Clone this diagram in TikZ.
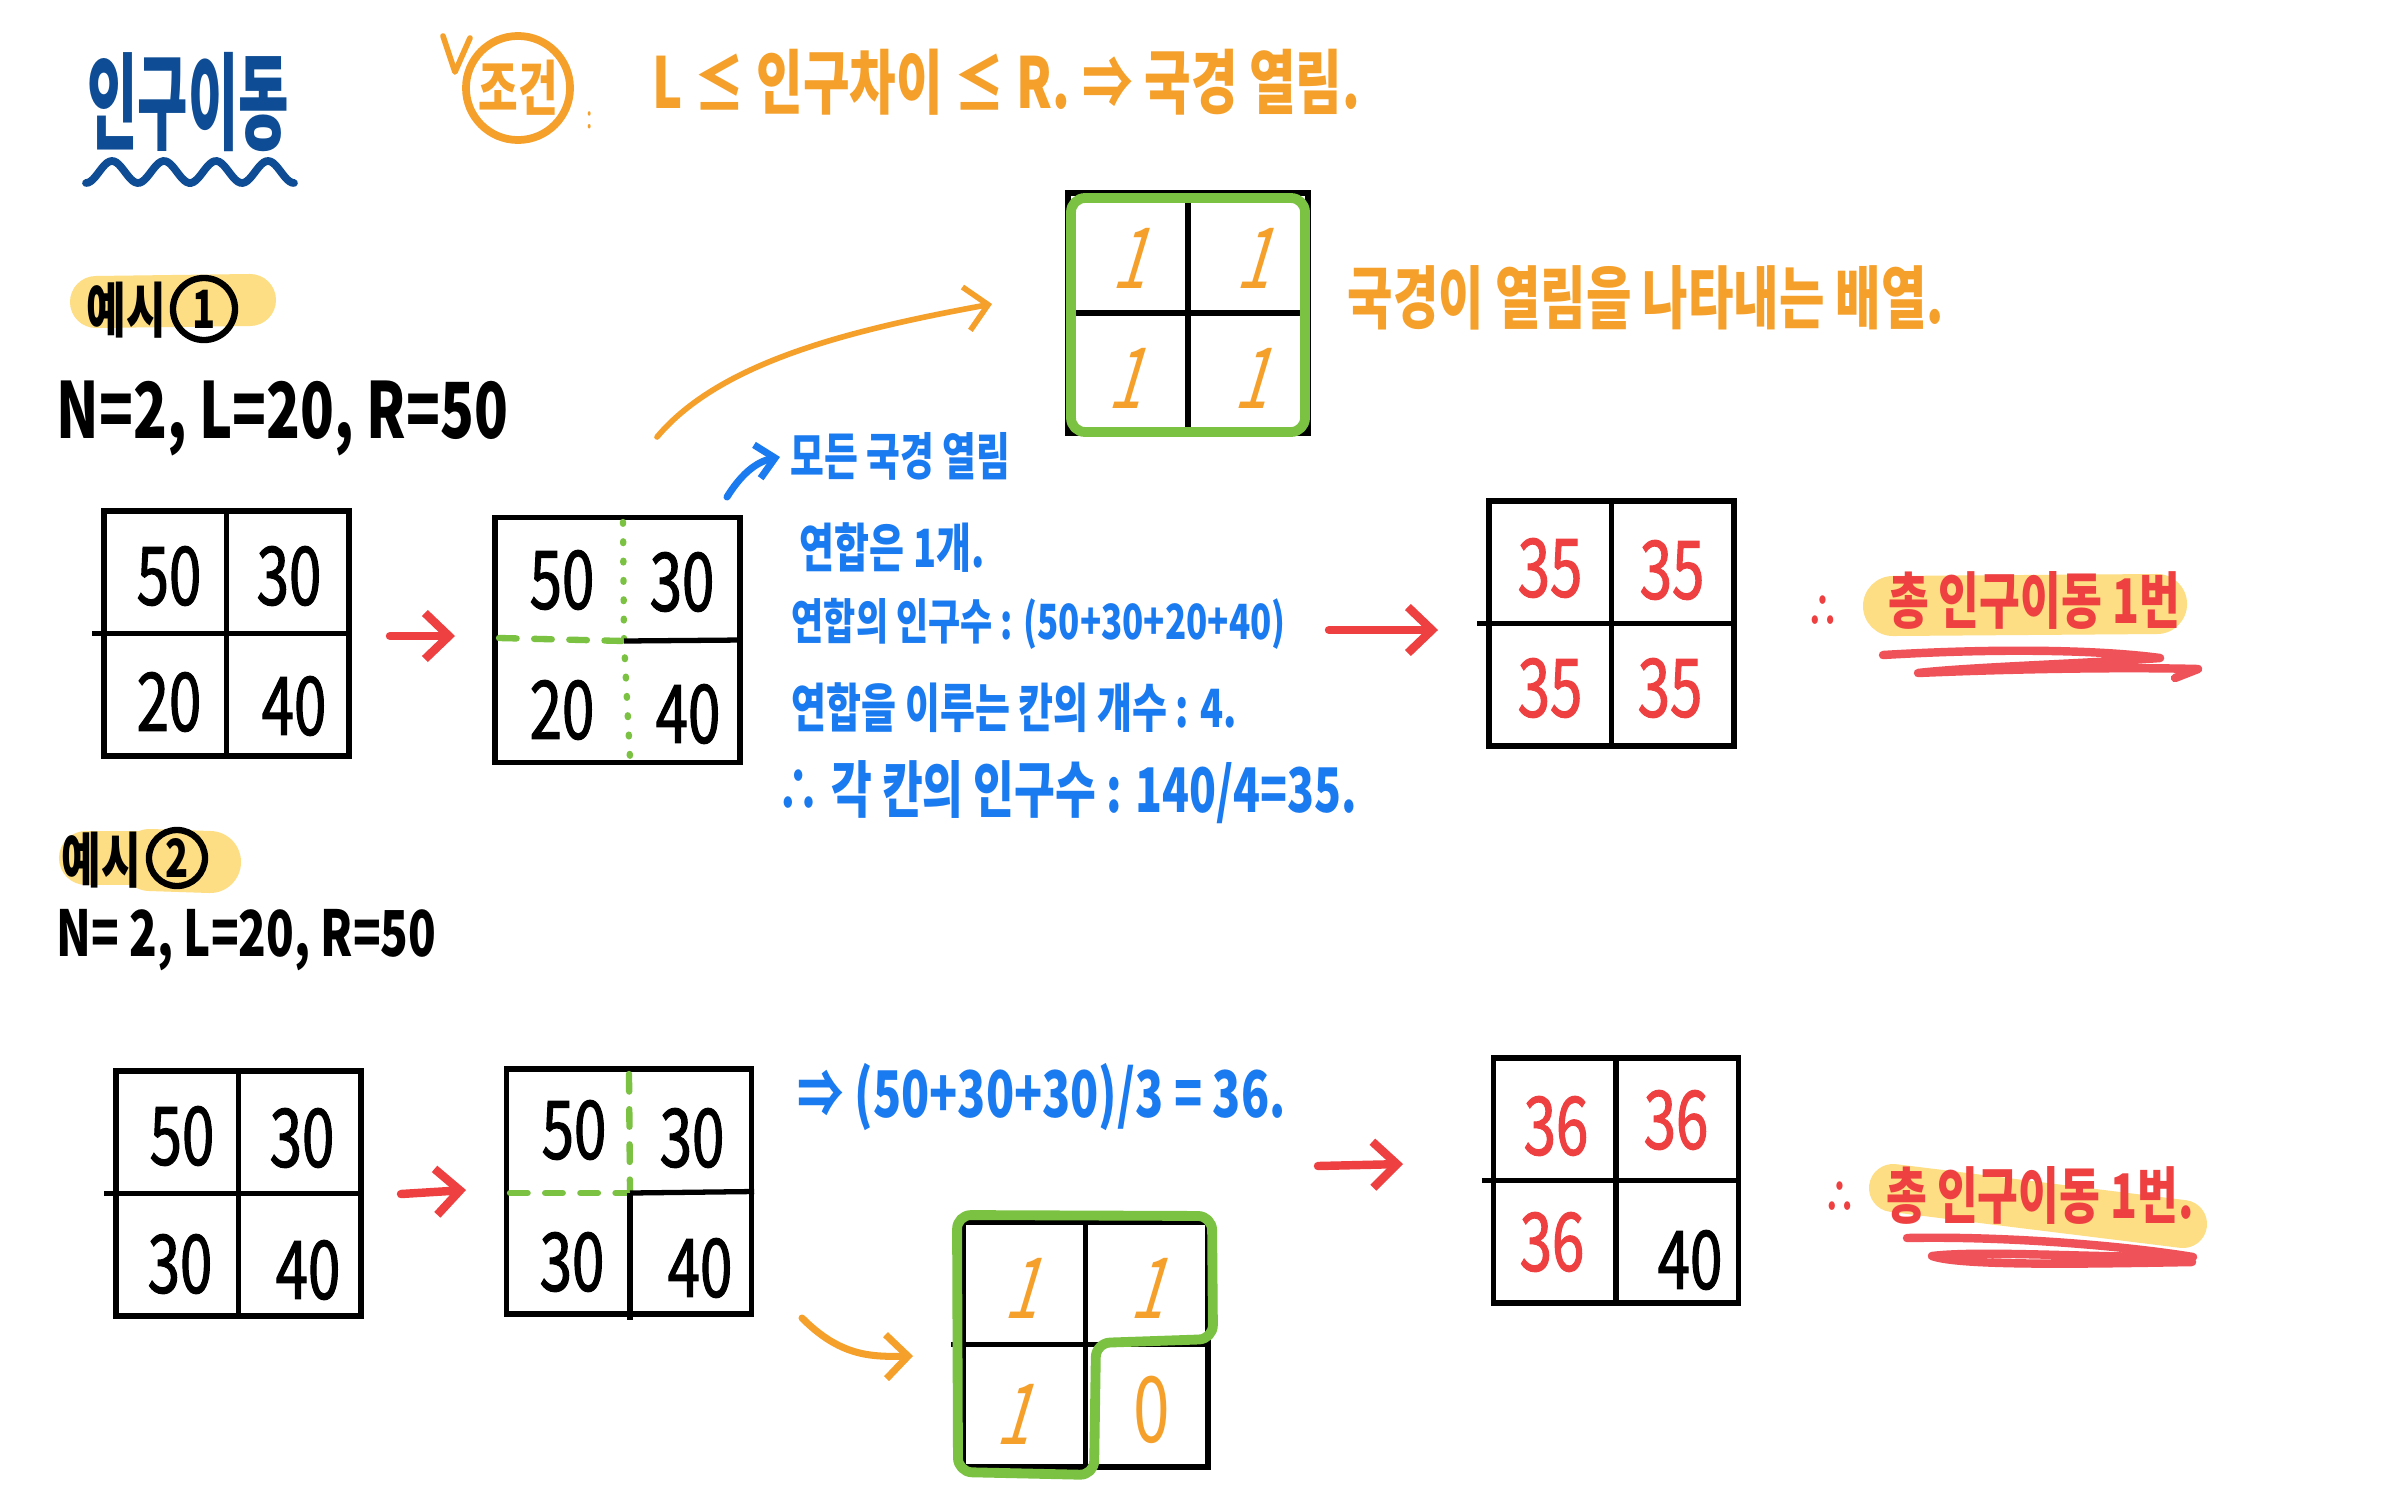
\documentclass[tikz,border=0pt]{standalone}
\usepackage{fontspec}
\newfontfamily\hw[FakeStretch=0.72]{Noto Sans CJK KR}
\newfontfamily\hwn[FakeStretch=0.72,FakeBold=1.3]{Noto Sans CJK KR}
\newfontfamily\hwsl[FakeStretch=0.72,FakeSlant=0.3]{Noto Sans CJK KR}
\usetikzlibrary{arrows.meta,calc}
\definecolor{org}{RGB}{245,160,42}
\definecolor{blu}{RGB}{26,122,240}
\definecolor{rd}{RGB}{238,64,64}
\definecolor{rdl}{RGB}{240,82,90}
\definecolor{grn}{RGB}{124,194,66}
\definecolor{yel}{RGB}{253,222,132}
\definecolor{ttl}{RGB}{14,77,149}
\begin{document}
\begin{tikzpicture}[x=0.01cm,y=-0.01cm,
  every node/.style={inner sep=0pt},
  gridbox/.style={draw=black,line width=1.5pt,minimum width=24.5mm,minimum height=24.5mm},
  gline/.style={black,line width=1.5pt},
  num/.style={font=\hwn\fontsize{23}{27}\selectfont},
  onenum/.style={text=org,font=\hwsl\fontsize{24}{28}\selectfont},
  btxt/.style={text=blu,anchor=west,font=\hw\bfseries\fontsize{15}{18}\selectfont},
  otxt/.style={text=org,anchor=west,font=\hw\bfseries\fontsize{19.5}{23}\selectfont},
  rtxt/.style={text=rd,font=\hw\bfseries\fontsize{17.5}{20}\selectfont},
  ktxt/.style={text=black,font=\hw\bfseries\fontsize{17}{20}\selectfont},
  circnum/.style={draw=black,line width=1.8pt,circle,minimum size=5.6mm,font=\hw\bfseries\fontsize{15}{18}\selectfont},
  redarrow/.style={draw=rd,line width=2.4pt,line cap=round,line join=round,-{Straight Barb[length=2.4mm,width=4.6mm]}},
  orgarrow/.style={draw=org,line width=1.6pt,line cap=round,-{Straight Barb[length=2.2mm,width=4.4mm]}},
  grnline/.style={draw=grn,line width=2.8pt,line join=round,rounded corners=4pt},
  dotg/.style={draw=grn,line width=1.8pt,line cap=round,dash pattern=on 0.5pt off 5pt},
  dashg/.style={draw=grn,line width=1.8pt,line cap=round,dash pattern=on 5pt off 5pt},
  hl/.style={draw=yel,line cap=round},
  uline/.style={draw=rdl,line width=2.4pt,line cap=round,line join=round},
]
\useasboundingbox (0,0) rectangle (2386,1491);
\fill[white] (0,0) rectangle (2386,1491);

% ---------- title ----------
\node[text=ttl,font=\hw\bfseries\fontsize{30}{34}\selectfont] (title) at (188,102) {\scalebox{0.72}[1]{인구이동}};
\draw[ttl,line width=2.2pt,line cap=round,domain=0:4,samples=90] plot ({86+52*\x},{172+11*cos(360*\x)});

% ---------- condition ----------
\draw[org,line width=1.6pt,line cap=round,line join=round] (443,36) -- (455,72) -- (470,38);
\node[draw=org,line width=2.2pt,circle,minimum size=10.4mm,text=org,font=\hw\bfseries\fontsize{17}{20}\selectfont] (cond) at (518,88) {조건};
\node[text=org,font=\hw\fontsize{9}{10}\selectfont] (colon) at (590,120) {:};
\node[otxt,font=\hw\bfseries\fontsize{20}{24}\selectfont] (condtxt) at (652,82) {L ≤ 인구차이 ≤ R. ⇒ 국경 열림.};

% ---------- example 1 ----------
\draw[hl,line width=5.2mm] (96,302) -- (250,300);
\node[ktxt] (ex1) at (126,310) {예시};
\node[circnum,minimum size=6.2mm] (ex1n) at (204,309) {1};
\node[ktxt,anchor=west,font=\hw\bfseries\fontsize{22}{26}\selectfont] (par1) at (56,418) {N=2, L=20, R=50};

% grid 1
\node[gridbox] (g1) at (226.5,633.5) {};
\draw[gline] ($(g1.west)+(-9,0)$) -- (g1.east);
\draw[gline] (g1.north) -- (g1.south);
\node[num] (g1a) at (169,576) {50};
\node[num] (g1b) at (289,576) {30};
\node[num] (g1c) at (169,702) {20};
\node[num] (g1d) at (294,706) {40};

\coordinate (a1s) at (390,636);
\coordinate (a1e) at (455,636);
\draw[redarrow] (a1s) -- (a1e);

% grid 2
\node[gridbox] (g2) at (617.5,640) {};
\coordinate (g2m) at (624,641);
\draw[dotg] (623,522) -- (g2m) -- (630,758);
\draw[dashg] (499,638) -- (g2m);
\draw[gline] (g2m) -- (g2.east);
\node[num] (g2a) at (562,580) {50};
\node[num] (g2b) at (682,582) {30};
\node[num] (g2c) at (562,710) {20};
\node[num] (g2d) at (688,714) {40};

% orange arrow to open-border array
\coordinate (oa1s) at (657,437);
\coordinate (oa1e) at (992,304);
\draw[orgarrow] (oa1s) .. controls (720,362) and (850,330) .. (oa1e);

% top array
\node[gridbox,minimum width=24mm,minimum height=24mm] (gt) at (1188,313) {};
\draw[gline] (gt.north) -- (gt.south);
\draw[gline] (gt.west) -- (gt.east);
\draw[grnline] (1071,198) rectangle (1305,432);
\node[onenum] (gta) at (1128,258) {1};
\node[onenum] (gtb) at (1252,258) {1};
\node[onenum] (gtc) at (1124,378) {1};
\node[onenum] (gtd) at (1250,378) {1};
\node[otxt] (gtxt) at (1347,298) {국경이 열림을 나타내는 배열.};

% blue explanation
\coordinate (ba1) at (727,497);
\coordinate (ba2) at (780,457);
\draw[blu,line width=2pt,line cap=round,-{Straight Barb[length=1.8mm,width=3.4mm]}] (ba1) .. controls (740,476) and (755,462) .. (ba2);
\node[btxt,font=\hw\bfseries\fontsize{14.5}{17}\selectfont] (b0) at (790,456) {모든 국경 열림};
\node[btxt] (b1) at (799,548) {연합은 1개.};
\node[btxt,font=\hw\bfseries\fontsize{13.8}{17}\selectfont] (b2) at (791,624) {연합의 인구수 : (50+30+20+40)};
\node[btxt] (b3) at (791,708) {연합을 이루는 칸의 개수 : 4.};
\node[btxt,font=\hw\bfseries\fontsize{17.5}{20}\selectfont] (b4) at (776,792) {∴ 각 칸의 인구수 : 140/4=35.};

\coordinate (a2s) at (1329,630);
\coordinate (a2e) at (1438,630);
\draw[redarrow] (a2s) -- (a2e);

% grid 3
\node[gridbox] (g3) at (1611.5,623.5) {};
\draw[gline] ($(g3.west)+(-9,0)$) -- (g3.east);
\draw[gline] (g3.north) -- (g3.south);
\node[num,text=rd] (g3a) at (1550,568) {35};
\node[num,text=rd] (g3b) at (1672,570) {35};
\node[num,text=rd] (g3c) at (1550,688) {35};
\node[num,text=rd] (g3d) at (1670,688) {35};

% total 1
\draw[hl,line width=6mm] (1893,606) -- (2157,604);
\node[rtxt,font=\hw\bfseries\fontsize{13}{15}\selectfont] (t1d) at (1823,612) {∴};
\node[rtxt] (t1) at (2034,600) {총 인구이동 1번};
\draw[uline] (1883,655) .. controls (2000,648) and (2100,650) .. (2160,658)
  .. controls (2080,664) and (1970,667) .. (1918,673)
  .. controls (2010,669) and (2120,667) .. (2198,669) -- (2175,678);

% ---------- example 2 ----------
\draw[hl,line width=5.4mm] (86,858) -- (150,858);
\draw[hl,line width=6.2mm] (150,860) -- (210,862);
\node[ktxt] (ex2) at (101,860) {예시};
\node[circnum] (ex2n) at (177,858) {2};
\node[ktxt,anchor=west,font=\hw\bfseries\fontsize{18}{22}\selectfont] (par2) at (56,940) {N= 2, L=20, R=50};

% grid 4
\node[gridbox] (g4) at (238.5,1193.5) {};
\draw[gline] ($(g4.west)+(-9,0)$) -- (g4.east);
\draw[gline] (g4.north) -- (g4.south);
\node[num] (g4a) at (182,1136) {50};
\node[num] (g4b) at (302,1138) {30};
\node[num] (g4c) at (180,1264) {30};
\node[num] (g4d) at (308,1270) {40};

\coordinate (a3s) at (401,1194);
\coordinate (a3e) at (466,1190);
\draw[redarrow] (a3s) -- (a3e);

% grid 5
\node[gridbox] (g5) at (629,1191.5) {};
\coordinate (g5m) at (630,1193);
\draw[dashg] (629,1074) -- (g5m);
\draw[dashg] (510,1193) -- (g5m);
\draw[gline] (g5m) -- (g5.east);
\draw[gline] (g5m) -- (630,1320);
\node[num] (g5a) at (574,1130) {50};
\node[num] (g5b) at (692,1138) {30};
\node[num] (g5c) at (572,1262) {30};
\node[num] (g5d) at (700,1268) {40};

\node[btxt,font=\hw\bfseries\fontsize{18.3}{22}\selectfont] (b5) at (797,1097) {⇒ (50+30+30)/3 = 36.};

% orange arrow to array
\coordinate (oa2s) at (802,1318);
\coordinate (oa2e) at (913,1356);
\draw[orgarrow,line width=2pt] (oa2s) .. controls (840,1356) and (870,1357) .. (oa2e);

% grid 6
\node[gridbox] (g6) at (1085.5,1344.5) {};
\draw[gline] ($(g6.west)+(-9,0)$) -- (g6.east);
\draw[gline] (g6.north) -- (g6.south);
\draw[grnline] (957,1215) -- (1212,1216) -- (1213,1339) -- (1096,1343) -- (1094,1475) -- (958,1472) -- cycle;
\node[onenum] (g6a) at (1020,1288) {1};
\node[onenum] (g6b) at (1146,1288) {1};
\node[onenum] (g6c) at (1012,1414) {1};
\node[onenum,font=\hw\fontsize{26}{30}\selectfont] (g6d) at (1152,1410) {0};

\coordinate (a4s) at (1318,1166);
\coordinate (a4e) at (1403,1164);
\draw[redarrow] (a4s) -- (a4e);

% grid 7
\node[gridbox] (g7) at (1616,1180.5) {};
\draw[gline] ($(g7.west)+(-9,0)$) -- (g7.east);
\draw[gline] (g7.north) -- (g7.south);
\node[num,text=rd] (g7a) at (1556,1126) {36};
\node[num,text=rd] (g7b) at (1676,1120) {36};
\node[num,text=rd] (g7c) at (1552,1242) {36};
\node[num] (g7d) at (1690,1260) {40};

% total 2
\draw[hl,line width=4.8mm] (1893,1188) -- (2183,1224);
\node[rtxt,font=\hw\bfseries\fontsize{13}{15}\selectfont] (t2d) at (1840,1198) {∴};
\node[rtxt] (t2) at (2040,1195) {총 인구이동 1번.};
\draw[uline] (1907,1238) .. controls (2000,1236) and (2120,1245) .. (2193,1257)
  .. controls (2100,1258) and (1980,1250) .. (1932,1256)
  .. controls (1960,1266) and (2080,1264) .. (2192,1262);
\end{tikzpicture}
\end{document}
